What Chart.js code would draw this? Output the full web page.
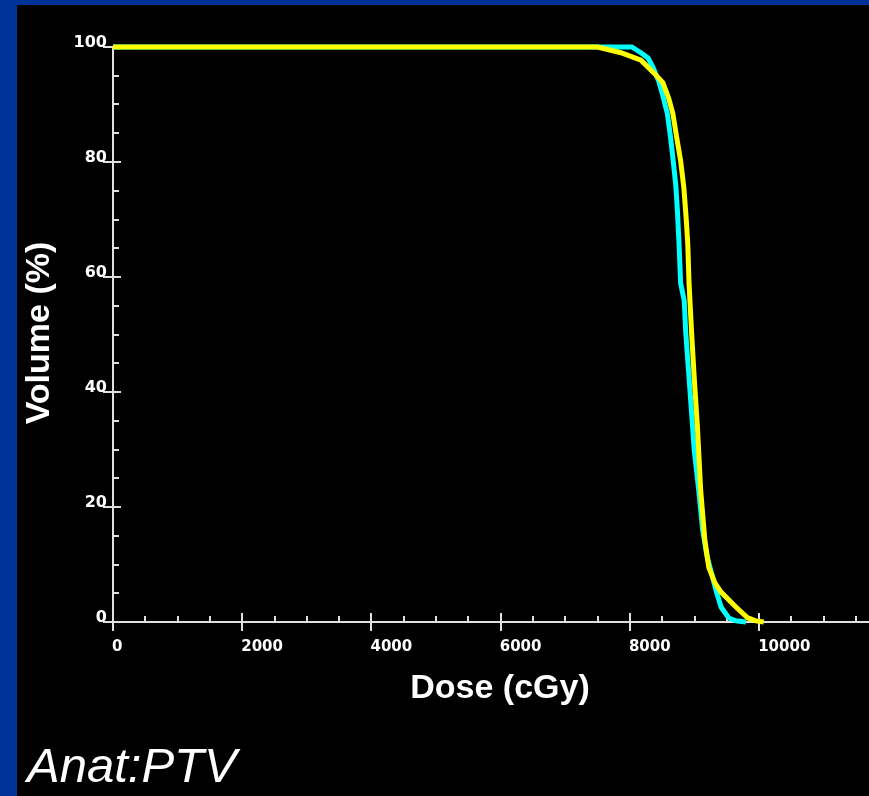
<!DOCTYPE html>
<html>
<head>
<meta charset="utf-8">
<title>Anat:PTV</title>
<script src="https://cdn.jsdelivr.net/npm/chart.js@4.4.1/dist/chart.umd.min.js"></script>
<style>
  html, body { margin: 0; padding: 0; background: #003399; overflow: hidden; }
  #dvhChart { display: block; }
</style>
</head>
<body>
<canvas id="dvhChart" width="869" height="796"></canvas>
<script>
// ==========================================
// DVH - PTV (cumulative dose volume histogram)
// ==========================================

// ===== DATA =====
const yellowDose = [0, 7500, 7860, 8170, 8370, 8510, 8600, 8665, 8725, 8785,
  8835, 8870, 8895, 8915, 8955, 8995, 9045, 9095, 9160, 9220,
  9315, 9410, 9640, 9825, 9950, 10070];
const yellowVolume = [100, 100, 99.0, 97.7, 95.5, 93.8, 91.1, 88.4, 84.2, 80.2,
  75.5, 70.3, 65.8, 58.9, 50.2, 42.5, 33.9, 22.9, 14.2, 9.5,
  6.8, 5.2, 2.6, 0.7, 0.2, 0];

const cyanDose = [0, 8030, 8170, 8280, 8355, 8445, 8510, 8580, 8630, 8670,
  8710, 8735, 8760, 8785, 8840, 8865, 8915, 8970, 8995, 9065,
  9125, 9190, 9270, 9330, 9410, 9530, 9640, 9795];
const cyanVolume = [100, 100, 99.0, 98.1, 96.5, 94.1, 91.5, 88.4, 84.2, 80.2,
  75.9, 71.5, 65.8, 58.9, 55.9, 50.2, 42.5, 33.9, 29.9, 22.9,
  16.0, 11.6, 8.2, 5.6, 2.6, 0.7, 0.2, 0];

// ===== AXES =====
const doseTicks = [0, 2000, 4000, 6000, 8000, 10000];
const doseTickLabels = ["0", "2000", "4000", "6000", "8000", "10000"];
const doseMinorStep = 500;
const doseMax = 11700;

const volumeTicks = [0, 20, 40, 60, 80, 100];
const volumeTickLabels = ["0", "20", "40", "60", "80", "100"];
const volumeMinorStep = 5;

const AXIS_COLOR = "#e0e0e0";
const TEXT_COLOR = "#ffffff";

const toPoints = (xs, ys) => xs.map((x, i) => ({ x: x, y: ys[i] }));

// ===== PLUGIN: background, axes, ticks, titles =====
const dvhFrame = {
  id: "dvhFrame",
  beforeDraw(chart) {
    const ctx = chart.ctx;
    ctx.save();
    ctx.fillStyle = "#003399";
    ctx.fillRect(0, 0, chart.width, chart.height);
    ctx.fillStyle = "#000000";
    ctx.fillRect(17, 5, chart.width - 17, chart.height - 5);
    ctx.restore();
  },
  beforeDatasetsDraw(chart) {
    const { ctx, chartArea } = chart;
    const xs = chart.scales.x;
    const ys = chart.scales.y;
    const x0 = Math.round(xs.getPixelForValue(0));
    const y0 = Math.round(ys.getPixelForValue(0));
    const yTop = Math.round(ys.getPixelForValue(100));

    ctx.save();
    ctx.strokeStyle = AXIS_COLOR;
    ctx.lineWidth = 2;

    // axis lines
    ctx.beginPath();
    ctx.moveTo(x0, yTop);
    ctx.lineTo(x0, y0);
    ctx.lineTo(chartArea.right, y0);
    ctx.stroke();

    // minor ticks (inside the plot)
    ctx.beginPath();
    for (let v = doseMinorStep; v < doseMax; v += doseMinorStep) {
      if (doseTicks.includes(v)) continue;
      const px = Math.round(xs.getPixelForValue(v));
      ctx.moveTo(px, y0 - 6);
      ctx.lineTo(px, y0);
    }
    for (let v = volumeMinorStep; v < 100; v += volumeMinorStep) {
      if (volumeTicks.includes(v)) continue;
      const py = Math.round(ys.getPixelForValue(v));
      ctx.moveTo(x0, py);
      ctx.lineTo(x0 + 6, py);
    }
    ctx.stroke();

    // major ticks (crossing the axis)
    ctx.beginPath();
    doseTicks.forEach((v) => {
      const px = Math.round(xs.getPixelForValue(v));
      ctx.moveTo(px, y0 - 9);
      ctx.lineTo(px, y0 + 9);
    });
    volumeTicks.forEach((v) => {
      const py = Math.round(ys.getPixelForValue(v));
      ctx.moveTo(x0 - 10, py);
      ctx.lineTo(x0 + 8, py);
    });
    ctx.stroke();

    // tick labels
    ctx.fillStyle = TEXT_COLOR;
    ctx.textBaseline = "alphabetic";
    ctx.font = "bold 15px 'DejaVu Sans'";
    ctx.textAlign = "left";
    doseTicks.forEach((v, i) => {
      const px = xs.getPixelForValue(v);
      ctx.fillText(doseTickLabels[i], px - 1, y0 + 29);
    });
    ctx.font = "bold 16px 'DejaVu Sans'";
    ctx.textAlign = "right";
    volumeTicks.forEach((v, i) => {
      const py = ys.getPixelForValue(v);
      ctx.fillText(volumeTickLabels[i], x0 - 6, py - 0.5);
    });

    // axis titles
    ctx.font = "bold 34px 'Liberation Sans'";
    ctx.textAlign = "center";
    ctx.fillText("Dose (cGy)", 500, 698);

    ctx.save();
    ctx.translate(49, 333);
    ctx.rotate(-Math.PI / 2);
    ctx.fillText("Volume (%)", 0, 0);
    ctx.restore();

    // structure name
    ctx.font = "italic 49px 'Liberation Sans'";
    ctx.textAlign = "left";
    ctx.fillText("Anat:PTV", 27, 782);

    ctx.restore();
  },
};

// ===== CHART =====
const dvhCtx = document.getElementById("dvhChart").getContext("2d");

const dvhChart = new Chart(dvhCtx, {
  type: "line",
  data: {
    datasets: [
      {
        label: "PTV 2",
        data: toPoints(yellowDose, yellowVolume),
        borderColor: "#ffff00",
      },
      {
        label: "PTV 1",
        data: toPoints(cyanDose, cyanVolume),
        borderColor: "#00ffff",
      },
    ],
  },
  options: {
    responsive: false,
    animation: false,
    devicePixelRatio: 1,
    layout: {
      padding: { left: 113, top: 47, right: 0, bottom: 174 },
    },
    elements: {
      line: { borderWidth: 5, tension: 0, fill: false },
      point: { radius: 0, hoverRadius: 0 },
    },
    datasets: {
      line: { clip: false },
    },
    scales: {
      x: { type: "linear", min: 0, max: doseMax, display: false },
      y: { type: "linear", min: 0, max: 100, display: false },
    },
    plugins: {
      legend: { display: false },
      tooltip: { enabled: false },
    },
  },
  plugins: [dvhFrame],
});
</script>
</body>
</html>
